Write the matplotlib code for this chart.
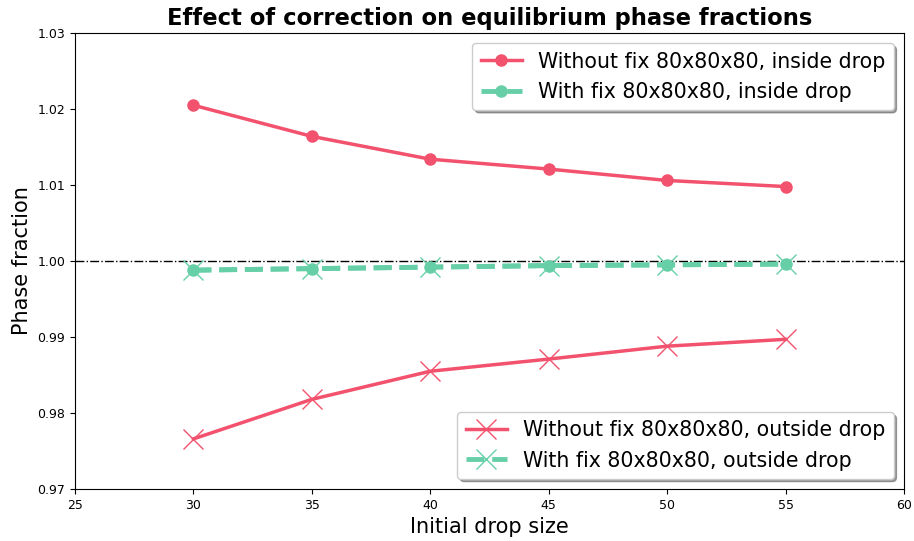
import numpy as np
import matplotlib
matplotlib.use('Agg')
import matplotlib.pyplot as plt

# drop sizes tested
drop_size = [30, 35, 40, 45, 50, 55]

# phase fractions
nofix_inside = [1.0205, 1.0164, 1.0134, 1.0121, 1.0106, 1.0098]
fix_inside = [0.9988, 0.9990, 0.9992, 0.9994, 0.9995, 0.9996]
nofix_outside = [0.9766, 0.9818, 0.9855, 0.9871, 0.9888, 0.9897]
fix_outside = [0.9988, 0.9990, 0.9992, 0.9994, 0.9995, 0.9996]

red = '#f2526d'
green = '#66cfa8'

fig, ax = plt.subplots(figsize=(9.14, 5.41), dpi=100)

ax.axhline(1.0, color='black', linestyle='-.', linewidth=1)

l1, = ax.plot(drop_size, nofix_inside, color=red, linestyle='-', linewidth=2.5,
              marker='o', markersize=8, label='Without fix 80x80x80, inside drop')
l2, = ax.plot(drop_size, fix_inside, color=green, linestyle='--', linewidth=3.5,
              marker='o', markersize=8, label='With fix 80x80x80, inside drop')
l3, = ax.plot(drop_size, nofix_outside, color=red, linestyle='-', linewidth=2.5,
              marker='x', markersize=14, label='Without fix 80x80x80, outside drop')
l4, = ax.plot(drop_size, fix_outside, color=green, linestyle='--', linewidth=3.5,
              marker='x', markersize=14, label='With fix 80x80x80, outside drop')

leg1 = ax.legend(handles=[l1, l2], loc='upper right', fontsize=14.8, shadow=True)
ax.add_artist(leg1)
ax.legend(handles=[l3, l4], loc='lower right', fontsize=14.8, shadow=True)

ax.set_xlim(25, 60)
ax.set_ylim(0.97, 1.03)
ax.set_xticks(np.arange(25, 61, 5))
ax.set_yticks(np.arange(0.97, 1.031, 0.01))
ax.tick_params(labelsize=9)
ax.set_xlabel('Initial drop size', fontsize=15)
ax.set_ylabel('Phase fraction', fontsize=15)
ax.set_title('Effect of correction on equilibrium phase fractions', fontsize=16.3, fontweight='bold')

plt.subplots_adjust(left=0.082, right=0.989, top=0.939, bottom=0.096)
plt.savefig('out.png', dpi=100)
